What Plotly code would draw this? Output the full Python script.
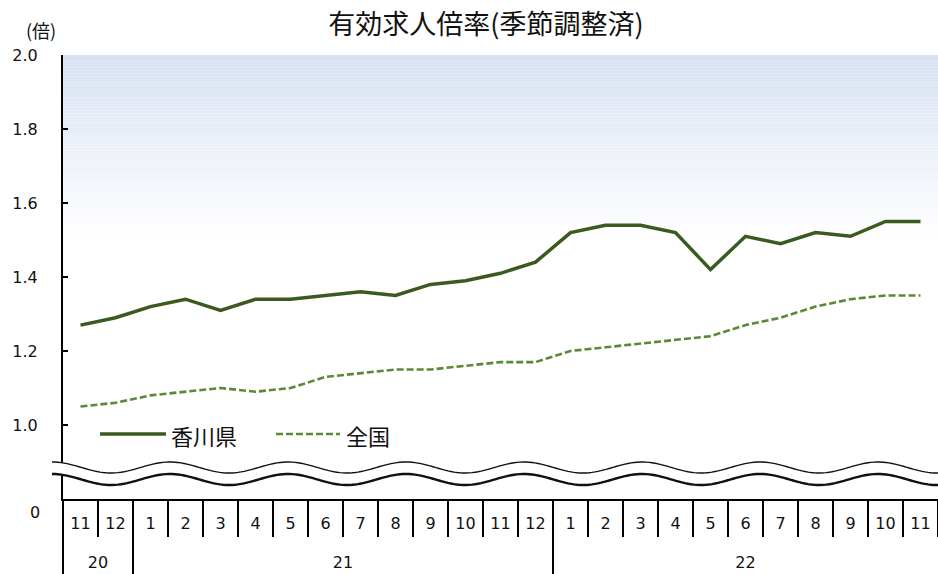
import numpy as np
import plotly.graph_objects as go

# ---- data ----
months = ["11", "12"] + [str(m) for m in range(1, 13)] + [str(m) for m in range(1, 12)]
years = ["20", "21", "22"]
year_counts = [2, 12, 11]
kagawa = [1.27, 1.29, 1.32, 1.34, 1.31, 1.34, 1.34, 1.35, 1.36, 1.35, 1.38, 1.39, 1.41,
          1.44, 1.52, 1.54, 1.54, 1.52, 1.42, 1.51, 1.49, 1.52, 1.51, 1.55, 1.55]
national = [1.05, 1.06, 1.08, 1.09, 1.10, 1.09, 1.10, 1.13, 1.14, 1.15, 1.15, 1.16, 1.17,
            1.17, 1.20, 1.21, 1.22, 1.23, 1.24, 1.27, 1.29, 1.32, 1.34, 1.35, 1.35]
y_ticks = [1.0, 1.2, 1.4, 1.6, 1.8, 2.0]

# ---- geometry ----
W, H = 938, 574
L, R, T, B = 63, 0, 55, 75
PW, PH = W - L - R, H - T - B


def px(x):
    return (x - L) / PW


def py(y):
    return (H - B - y) / PH


C_K = "#3b5a1f"
C_N = "#5b8a36"
JP = "Noto Sans CJK JP"
NUM = "DejaVu Sans"

idx = list(range(len(months)))
month_bounds = [i - 0.5 for i in range(len(months) + 1)]
starts = np.concatenate([[0], np.cumsum(year_counts)[:-1]])
year_bounds = [s - 0.5 for s in starts]
year_centers = [s + (c - 1) / 2 for s, c in zip(starts, year_counts)]
xr = [-0.5, len(months) - 0.5]

fig = go.Figure()
fig.add_trace(go.Scatter(x=idx, y=kagawa, mode="lines", name="香川県",
                         line=dict(color=C_K, width=3.5), showlegend=False))
fig.add_trace(go.Scatter(x=idx, y=national, mode="lines", name="全国",
                         line=dict(color=C_N, width=2.6, dash="7px,3px"), showlegend=False))

shapes = []
# gradient background (top of plot area)
n = 60
top = np.array([215, 225, 242])
for i in range(n):
    y0 = 2.0 - i * 0.5 / n
    y1 = 2.0 - (i + 1) * 0.5 / n
    f = i / (n - 1)
    c = top + (255 - top) * f
    shapes.append(dict(type="rect", xref="paper", yref="y", x0=0, x1=1, y0=y1, y1=y0,
                       fillcolor="rgb(%d,%d,%d)" % tuple(c.round()), line=dict(width=0),
                       layer="below"))

# axis break (wavy band)
xs = np.arange(52, 941, 3.0)
up = 467.5 - 5.5 * np.cos(2 * np.pi * (xs - 52) / 118)
lo = up + 12


def pts(xa, ya):
    return " L".join("%.5f,%.5f" % (px(a), py(b)) for a, b in zip(xa, ya))


fill = "M" + pts(xs, up) + " L" + pts(xs[::-1], lo[::-1]) + " Z"
shapes.append(dict(type="path", xref="paper", yref="paper", path=fill, fillcolor="white",
                   line=dict(width=0), layer="above"))
shapes.append(dict(type="path", xref="paper", yref="paper", path="M" + pts(xs, up),
                   line=dict(color="#111", width=1.4), layer="above"))
shapes.append(dict(type="path", xref="paper", yref="paper", path="M" + pts(xs, lo),
                   line=dict(color="#111", width=2.4), layer="above"))

# legend (manual)
shapes.append(dict(type="line", xref="paper", yref="paper", x0=px(100), x1=px(166),
                   y0=py(434), y1=py(434), line=dict(color=C_K, width=3.5)))
shapes.append(dict(type="line", xref="paper", yref="paper", x0=px(276), x1=px(340),
                   y0=py(434), y1=py(434), line=dict(color=C_N, width=2.6, dash="7px,3px")))

annotations = [
    dict(text="香川県", xref="paper", yref="paper", x=px(169), y=py(435), xanchor="left",
         yanchor="middle", showarrow=False, font=dict(family=JP, size=22, color="#111")),
    dict(text="全国", xref="paper", yref="paper", x=px(344), y=py(435), xanchor="left",
         yanchor="middle", showarrow=False, font=dict(family=JP, size=22, color="#111")),
    dict(text="(倍)", xref="paper", yref="paper", x=px(41), y=py(30), xanchor="center",
         yanchor="middle", showarrow=False, font=dict(family=JP, size=18, color="#111")),
    dict(text="0", xref="paper", yref="paper", x=px(35), y=py(512), xanchor="center",
         yanchor="middle", showarrow=False, font=dict(family=NUM, size=16, color="#111")),
]

fig.update_layout(
    width=W, height=H,
    margin=dict(l=L, r=R, t=T, b=B, pad=0),
    paper_bgcolor="white", plot_bgcolor="white",
    title=dict(text="有効求人倍率(季節調整済)", x=px(486), xref="paper", xanchor="center",
               y=1 - 25 / H, yanchor="middle", font=dict(family=JP, size=27, color="#111")),
    shapes=shapes, annotations=annotations,
    xaxis=dict(range=xr, showline=True, linecolor="black", linewidth=2,
               tickmode="array", tickvals=idx, ticktext=months, ticks="",
               minor=dict(tickmode="array", tickvals=month_bounds, ticks="outside",
                          ticklen=36, tickwidth=2, tickcolor="black", showgrid=False),
               showgrid=False, zeroline=False, ticklabelstandoff=9,
               tickfont=dict(family=NUM, size=16, color="#111")),
    xaxis2=dict(range=xr, overlaying="x", anchor="y", side="bottom", showline=False,
                tickmode="array", tickvals=year_centers, ticktext=years, ticks="",
                minor=dict(tickmode="array", tickvals=year_bounds, ticks="outside",
                           ticklen=80, tickwidth=2, tickcolor="black", showgrid=False),
                showgrid=False, zeroline=False, ticklabelstandoff=52,
                tickfont=dict(family=NUM, size=16, color="#111")),
    yaxis=dict(range=[0.8, 2.0], tickvals=y_ticks, tickformat=".1f", ticks="inside",
               ticklen=5, tickwidth=2, tickcolor="black", showline=True, linecolor="black",
               linewidth=2, showgrid=False, zeroline=False, ticklabelstandoff=20,
               tickfont=dict(family=NUM, size=16, color="#111")),
)
# dummy invisible trace to activate xaxis2
fig.add_trace(go.Scatter(x=[xr[0]], y=[None], xaxis="x2", showlegend=False,
                         hoverinfo="skip", mode="lines"))

fig.write_html("out.html")
